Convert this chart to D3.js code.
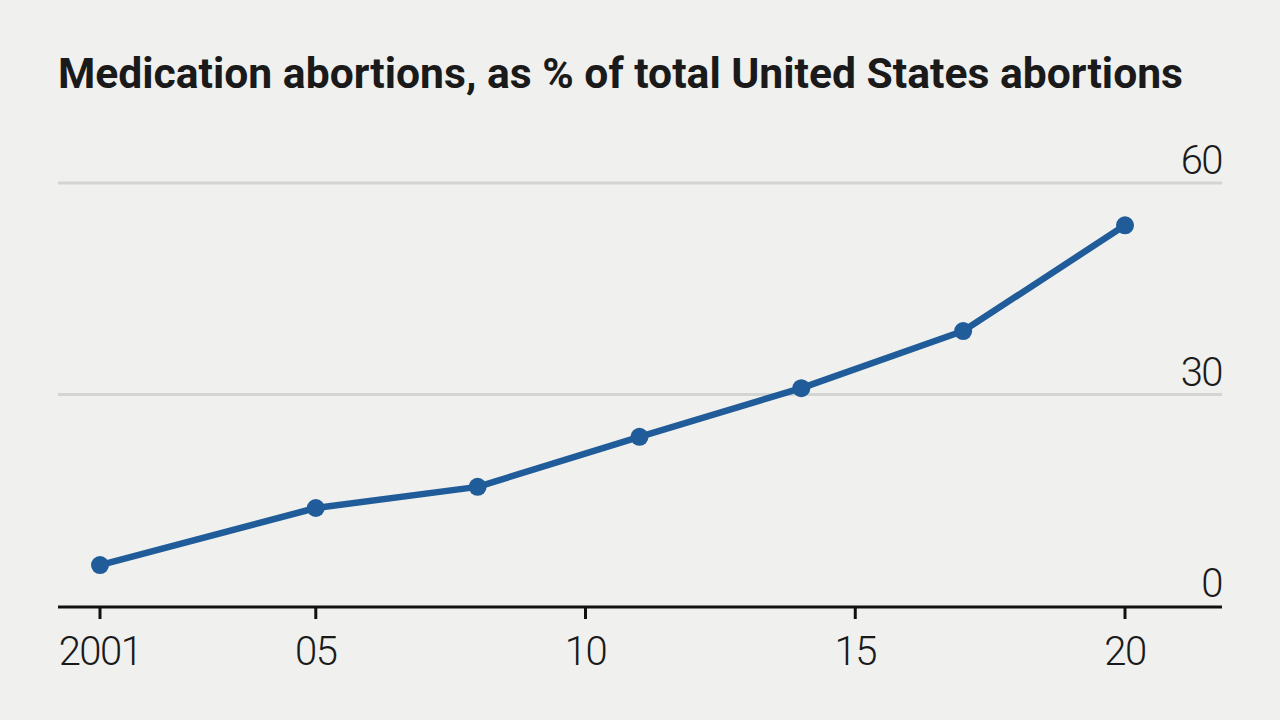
<!DOCTYPE html>
<html><head><meta charset="utf-8">
<script src="https://cdn.jsdelivr.net/npm/d3@7"></script>
<style>
html,body{margin:0;padding:0;background:#f0f0ee;}
svg{display:block;}
</style></head>
<body>
<svg id="chart" width="1280" height="720"></svg>
<script>
const title = "Medication abortions, as % of total United States abortions";
const years = [2001, 2005, 2008, 2011, 2014, 2017, 2020];
const values = [5.8, 13.9, 16.9, 24.0, 30.9, 39.0, 54.0];
const xTicks = [2001, 2005, 2010, 2015, 2020];
const xTickLabels = ["2001", "05", "10", "15", "20"];
const yTicks = [0, 30, 60];

const svg = d3.select("#chart");
svg.append("rect").attr("width",1280).attr("height",720).attr("fill","#f0f0ee");

const left = 58, right = 1222;
const x = d3.scaleLinear().domain([2001, 2020]).range([100, 1125]);
const y = d3.scaleLinear().domain([0, 60]).range([606, 183]);

// title
svg.append("text")
  .attr("x", left).attr("y", 88)
  .attr("font-family", "Roboto, 'Open Sans', sans-serif")
  .attr("font-weight", 700)
  .attr("font-size", 43)
  .attr("fill", "#1a1a1a")
  .attr("textLength", 1125).attr("lengthAdjust", "spacingAndGlyphs")
  .text(title);

// gridlines
svg.append("g").selectAll("line").data(yTicks.filter(d => d > 0)).join("line")
  .attr("x1", left).attr("x2", right)
  .attr("y1", d => y(d)).attr("y2", d => y(d))
  .attr("stroke", "#d4d4d2").attr("stroke-width", 3);

// y labels
svg.append("g").selectAll("text").data(yTicks).join("text")
  .attr("x", right).attr("y", d => y(d) - 9)
  .attr("text-anchor", "end")
  .attr("font-family", "Roboto, sans-serif")
  .attr("font-weight", 300)
  .attr("font-size", 40)
  .attr("letter-spacing", -1.5)
  .attr("fill", "#1a1a1a")
  .text(d => d);

// baseline
svg.append("line").attr("x1", left).attr("x2", right)
  .attr("y1", y(0)+1).attr("y2", y(0)+1)
  .attr("stroke", "#111").attr("stroke-width", 3);

// x ticks
const xg = svg.append("g");
xg.selectAll("line").data(xTicks).join("line")
  .attr("x1", d => x(d)).attr("x2", d => x(d))
  .attr("y1", y(0)+1).attr("y2", y(0)+13)
  .attr("stroke", "#111").attr("stroke-width", 3);
xg.selectAll("text").data(xTicks).join("text")
  .attr("x", d => x(d)).attr("y", 665)
  .attr("text-anchor", "middle")
  .attr("font-family", "Roboto, sans-serif")
  .attr("font-weight", 300)
  .attr("font-size", 40)
  .attr("letter-spacing", -1.5)
  .attr("fill", "#1a1a1a")
  .text((d,i) => xTickLabels[i]);

// line
const data = years.map((yr,i) => ({yr, v: values[i]}));
svg.append("path").datum(data)
  .attr("fill", "none").attr("stroke", "#1f5c99").attr("stroke-width", 6.5)
  .attr("stroke-linejoin", "round")
  .attr("d", d3.line().x(d => x(d.yr)).y(d => y(d.v)));
svg.append("g").selectAll("circle").data(data).join("circle")
  .attr("cx", d => x(d.yr)).attr("cy", d => y(d.v)).attr("r", 9)
  .attr("fill", "#1f5c99");
</script>
</body></html>
